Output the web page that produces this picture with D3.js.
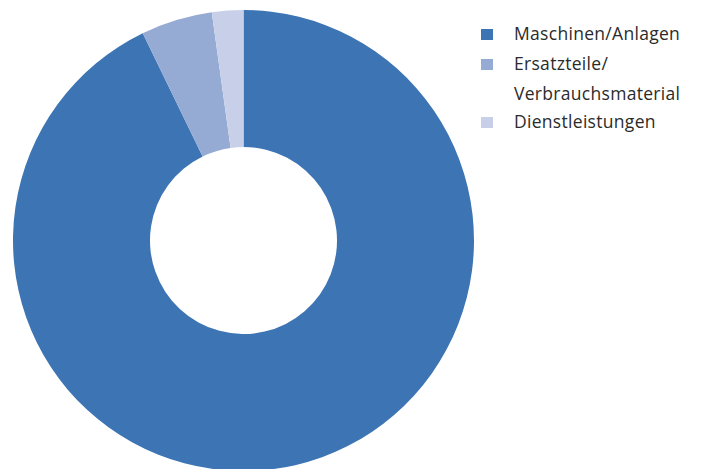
<!DOCTYPE html>
<html>
<head>
<meta charset="utf-8">
<script src="https://cdn.jsdelivr.net/npm/d3@7"></script>
<style>
  html, body { margin: 0; padding: 0; background: #fff; }
  svg { display: block; }
</style>
</head>
<body>
<svg id="chart" width="704" height="469"></svg>
<script>
// Umsatzanteile nach Leistungsart (in %)
const categories = ["Maschinen/Anlagen", "Ersatzteile/\nVerbrauchsmaterial", "Dienstleistungen"];
const shares = [92.8, 5.0, 2.2];
const colors = ["#3c74b4", "#96abd4", "#c8d0e9"];

const svg = d3.select("#chart");
const cx = 243.5, cy = 240.5, outerR = 230.5, innerR = 93.5;

const pie = d3.pie().sort(null).value(d => d.value);
const arc = d3.arc().innerRadius(innerR).outerRadius(outerR);
const data = categories.map((c, i) => ({ name: c, value: shares[i], color: colors[i] }));

svg.append("g")
  .attr("transform", `translate(${cx},${cy})`)
  .selectAll("path")
  .data(pie(data))
  .join("path")
  .attr("d", arc)
  .attr("fill", d => d.data.color);

// Legende
const legend = svg.append("g").attr("font-family", "'Open Sans', sans-serif")
  .attr("font-size", 17.5).attr("fill", "#2b2b2b");
let y = 40;
data.forEach(d => {
  const lines = d.name.split("\n");
  legend.append("rect").attr("x", 481).attr("y", y - 11).attr("width", 12).attr("height", 11)
    .attr("fill", d.color);
  lines.forEach((ln, j) => {
    legend.append("text").attr("x", 514).attr("y", y + j * 30).attr("letter-spacing", 0.3).text(ln);
  });
  y += lines.length * 30 - (lines.length > 1 ? 2 : 0);
});
</script>
</body>
</html>
